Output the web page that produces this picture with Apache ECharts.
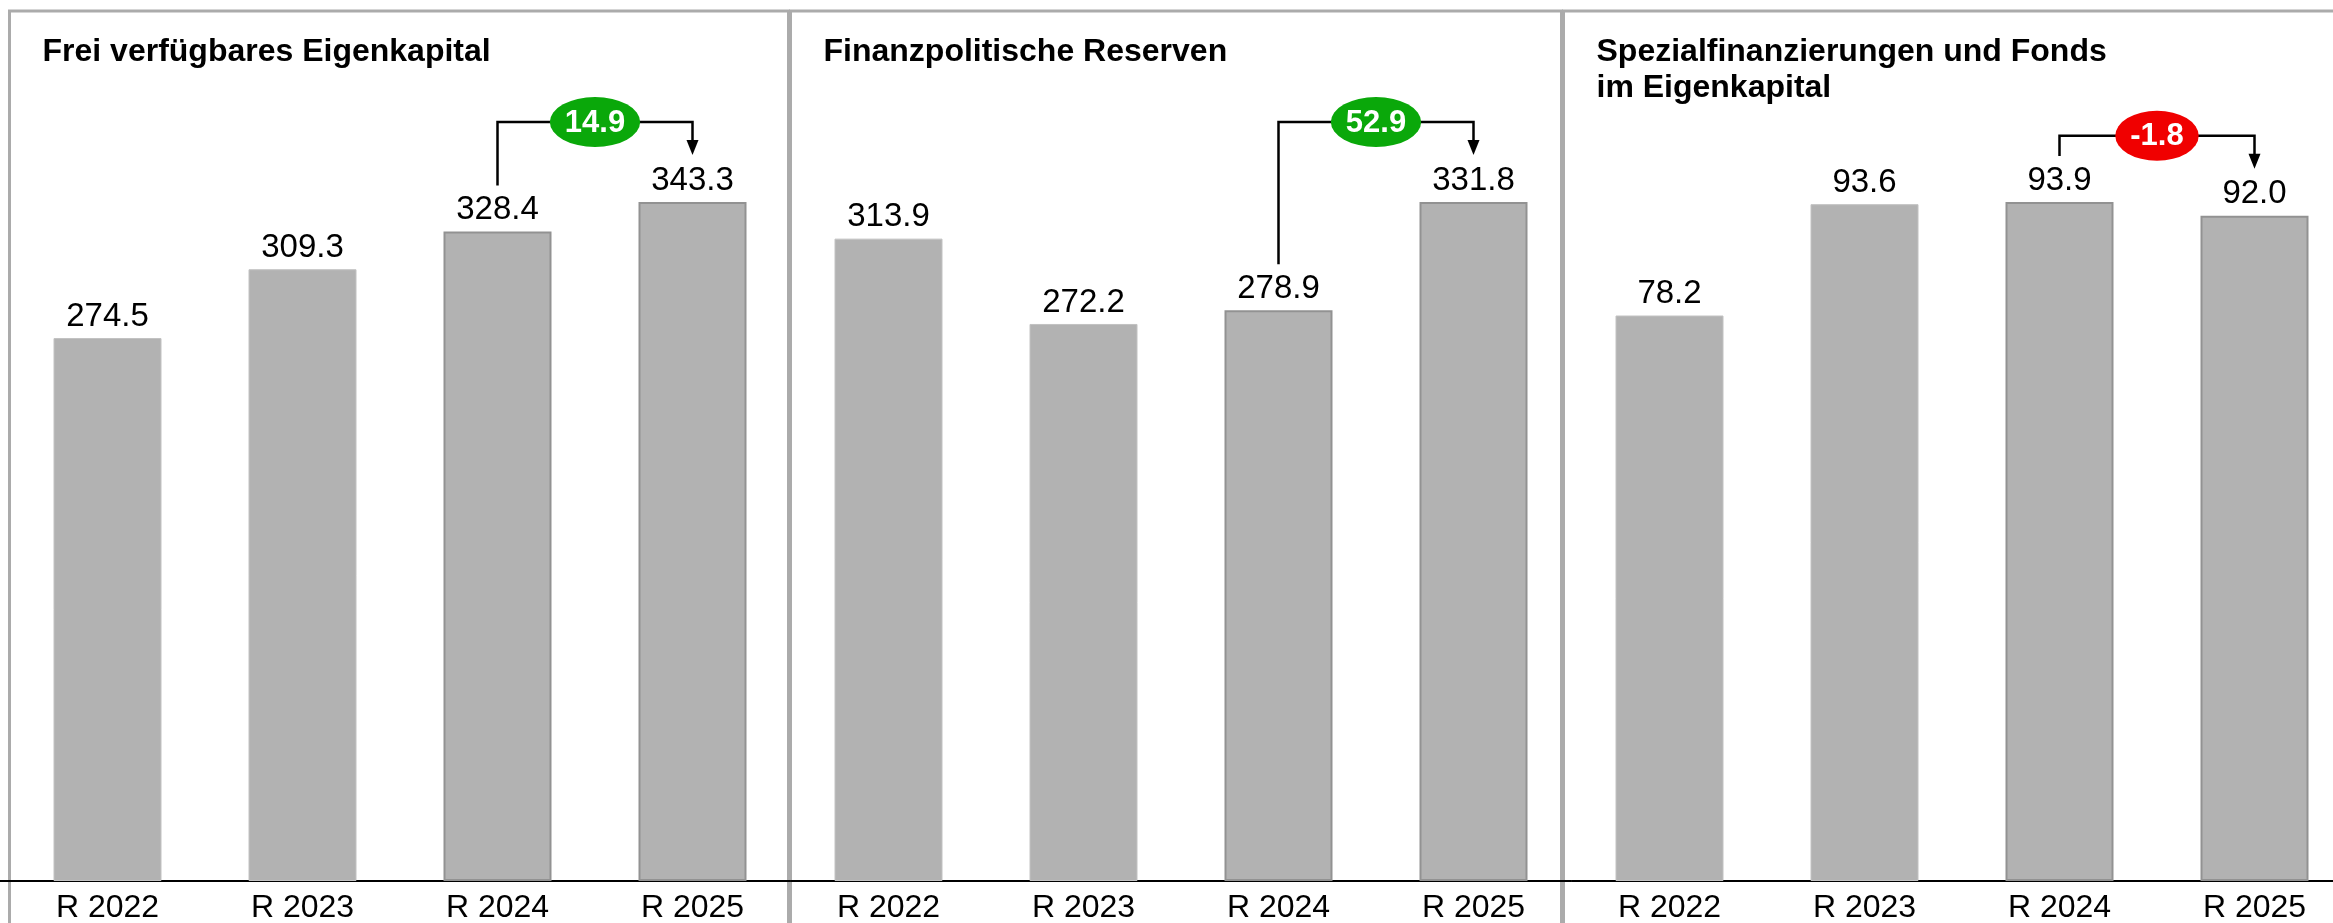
<!DOCTYPE html>
<html>
<head>
<meta charset="utf-8">
<script src="https://cdn.jsdelivr.net/npm/echarts@6/dist/echarts.min.js"></script>
<style>
    html, body { margin: 0; padding: 0; background: #fff; }
    #chart { width: 2333px; height: 923px; }
</style>
</head>
<body>
<div id="chart"></div>
<script>
const categories = ['R 2022', 'R 2023', 'R 2024', 'R 2025'];
const freiValues = [274.5, 309.3, 328.4, 343.3];
const reserveValues = [313.9, 272.2, 278.9, 331.8];
const fondsValues = [78.2, 93.6, 93.9, 92.0];
const titles = [
    'Frei verfügbares Eigenkapital',
    'Finanzpolitische Reserven',
    'Spezialfinanzierungen und Fonds\nim Eigenkapital'
];
// Veränderung R 2024 -> R 2025, so wie im Bild angegeben
const deltas = [14.9, 52.9, -1.8];

const FONT = '"Liberation Sans", Arial, sans-serif';
const W = 2333;
const panels = [freiValues, reserveValues, fondsValues];
const panelLeft = [10, 791, 1572];
const frameLeft = [9.5, 790.5, 1563.5];
const frameRight = [788.5, 1561.5, 2345];

const measure = document.createElement('canvas').getContext('2d');

function renderBracket(params, api) {
    const src = api.coord([api.value(0), api.value(2)]);
    const tgt = api.coord([api.value(1), api.value(3)]);
    const delta = api.value(4);
    const text = delta.toFixed(1);
    const yb = tgt[1] - 80;
    const tip = tgt[1] - 47;
    const cx = (src[0] + tgt[0]) / 2;
    measure.font = 'bold 31px ' + FONT;
    const tw = measure.measureText(text).width;
    const rx = tw / 2 + 15;
    const ry = 25;
    return {
        type: 'group',
        children: [
            {
                type: 'polyline',
                shape: { points: [[src[0], src[1] - 46], [src[0], yb], [tgt[0], yb], [tgt[0], tip - 14]] },
                style: { stroke: '#000', lineWidth: 2.5, fill: null }
            },
            {
                type: 'polygon',
                shape: { points: [[tgt[0] - 6, tip - 15], [tgt[0] + 6, tip - 15], [tgt[0], tip]] },
                style: { fill: '#000' }
            },
            {
                type: 'circle',
                x: cx,
                y: yb,
                scaleX: rx / ry,
                shape: { cx: 0, cy: 0, r: ry },
                style: { fill: delta >= 0 ? '#0aa80a' : '#f00000' }
            },
            {
                type: 'text',
                x: cx,
                y: yb + 1,
                style: {
                    text: text,
                    fill: '#fff',
                    font: 'bold 31px ' + FONT,
                    align: 'center',
                    verticalAlign: 'middle'
                }
            }
        ]
    };
}

const chart = echarts.init(document.getElementById('chart'));

const option = {
    animation: false,
    title: titles.map((t, i) => ({
        text: t,
        left: frameLeft[i] + 33,
        top: 34,
        padding: 0,
        textStyle: {
            fontFamily: FONT,
            fontSize: 32,
            fontWeight: 'bold',
            color: '#000',
            lineHeight: 36
        }
    })),
    grid: panels.map((v, i) => ({
        left: panelLeft[i],
        right: W - panelLeft[i] - 780,
        top: 202,
        bottom: 42,
        outerBoundsMode: 'none',
        containLabel: false
    })),
    xAxis: panels.map((v, i) => ({
        type: 'category',
        gridIndex: i,
        data: categories,
        axisTick: { show: false },
        axisLine: { lineStyle: { color: '#000', width: 2 } },
        axisLabel: { fontFamily: FONT, fontSize: 32, color: '#000', margin: 11 }
    })),
    yAxis: panels.map((v, i) => ({
        type: 'value',
        gridIndex: i,
        min: 0,
        max: Math.max(...v),
        show: false
    })),
    series: [
        ...panels.map((values, i) => ({
            type: 'bar',
            xAxisIndex: i,
            yAxisIndex: i,
            barWidth: 108,
            data: values.map((val, k) => ({
                value: val,
                itemStyle: k >= 2
                    ? { color: '#b2b2b2', borderColor: '#929292', borderWidth: 2 }
                    : { color: '#b2b2b2', borderColor: '#c2c2c2', borderWidth: 1 }
            })),
            label: {
                show: true,
                position: 'top',
                distance: 5,
                fontFamily: FONT,
                fontSize: 33,
                color: '#000',
                formatter: p => p.value.toFixed(1)
            }
        })),
        ...panels.map((values, i) => ({
            type: 'custom',
            xAxisIndex: i,
            yAxisIndex: i,
            clip: false,
            encode: { x: 0, y: 2 },
            renderItem: renderBracket,
            data: [[2, 3, values[2], values[3], deltas[i]]],
            z: 5
        }))
    ],
    graphic: [
        ...frameLeft.map((l, i) => ({
            type: 'rect',
            shape: { x: l, y: 11, width: frameRight[i] - l, height: 1000 },
            style: { fill: null, stroke: '#ababab', lineWidth: 3 },
            silent: true
        })),
        {
            type: 'line',
            shape: { x1: 0, y1: 881, x2: 12, y2: 881 },
            style: { stroke: '#000', lineWidth: 2 }
        }
    ]
};

chart.setOption(option);
</script>
</body>
</html>
